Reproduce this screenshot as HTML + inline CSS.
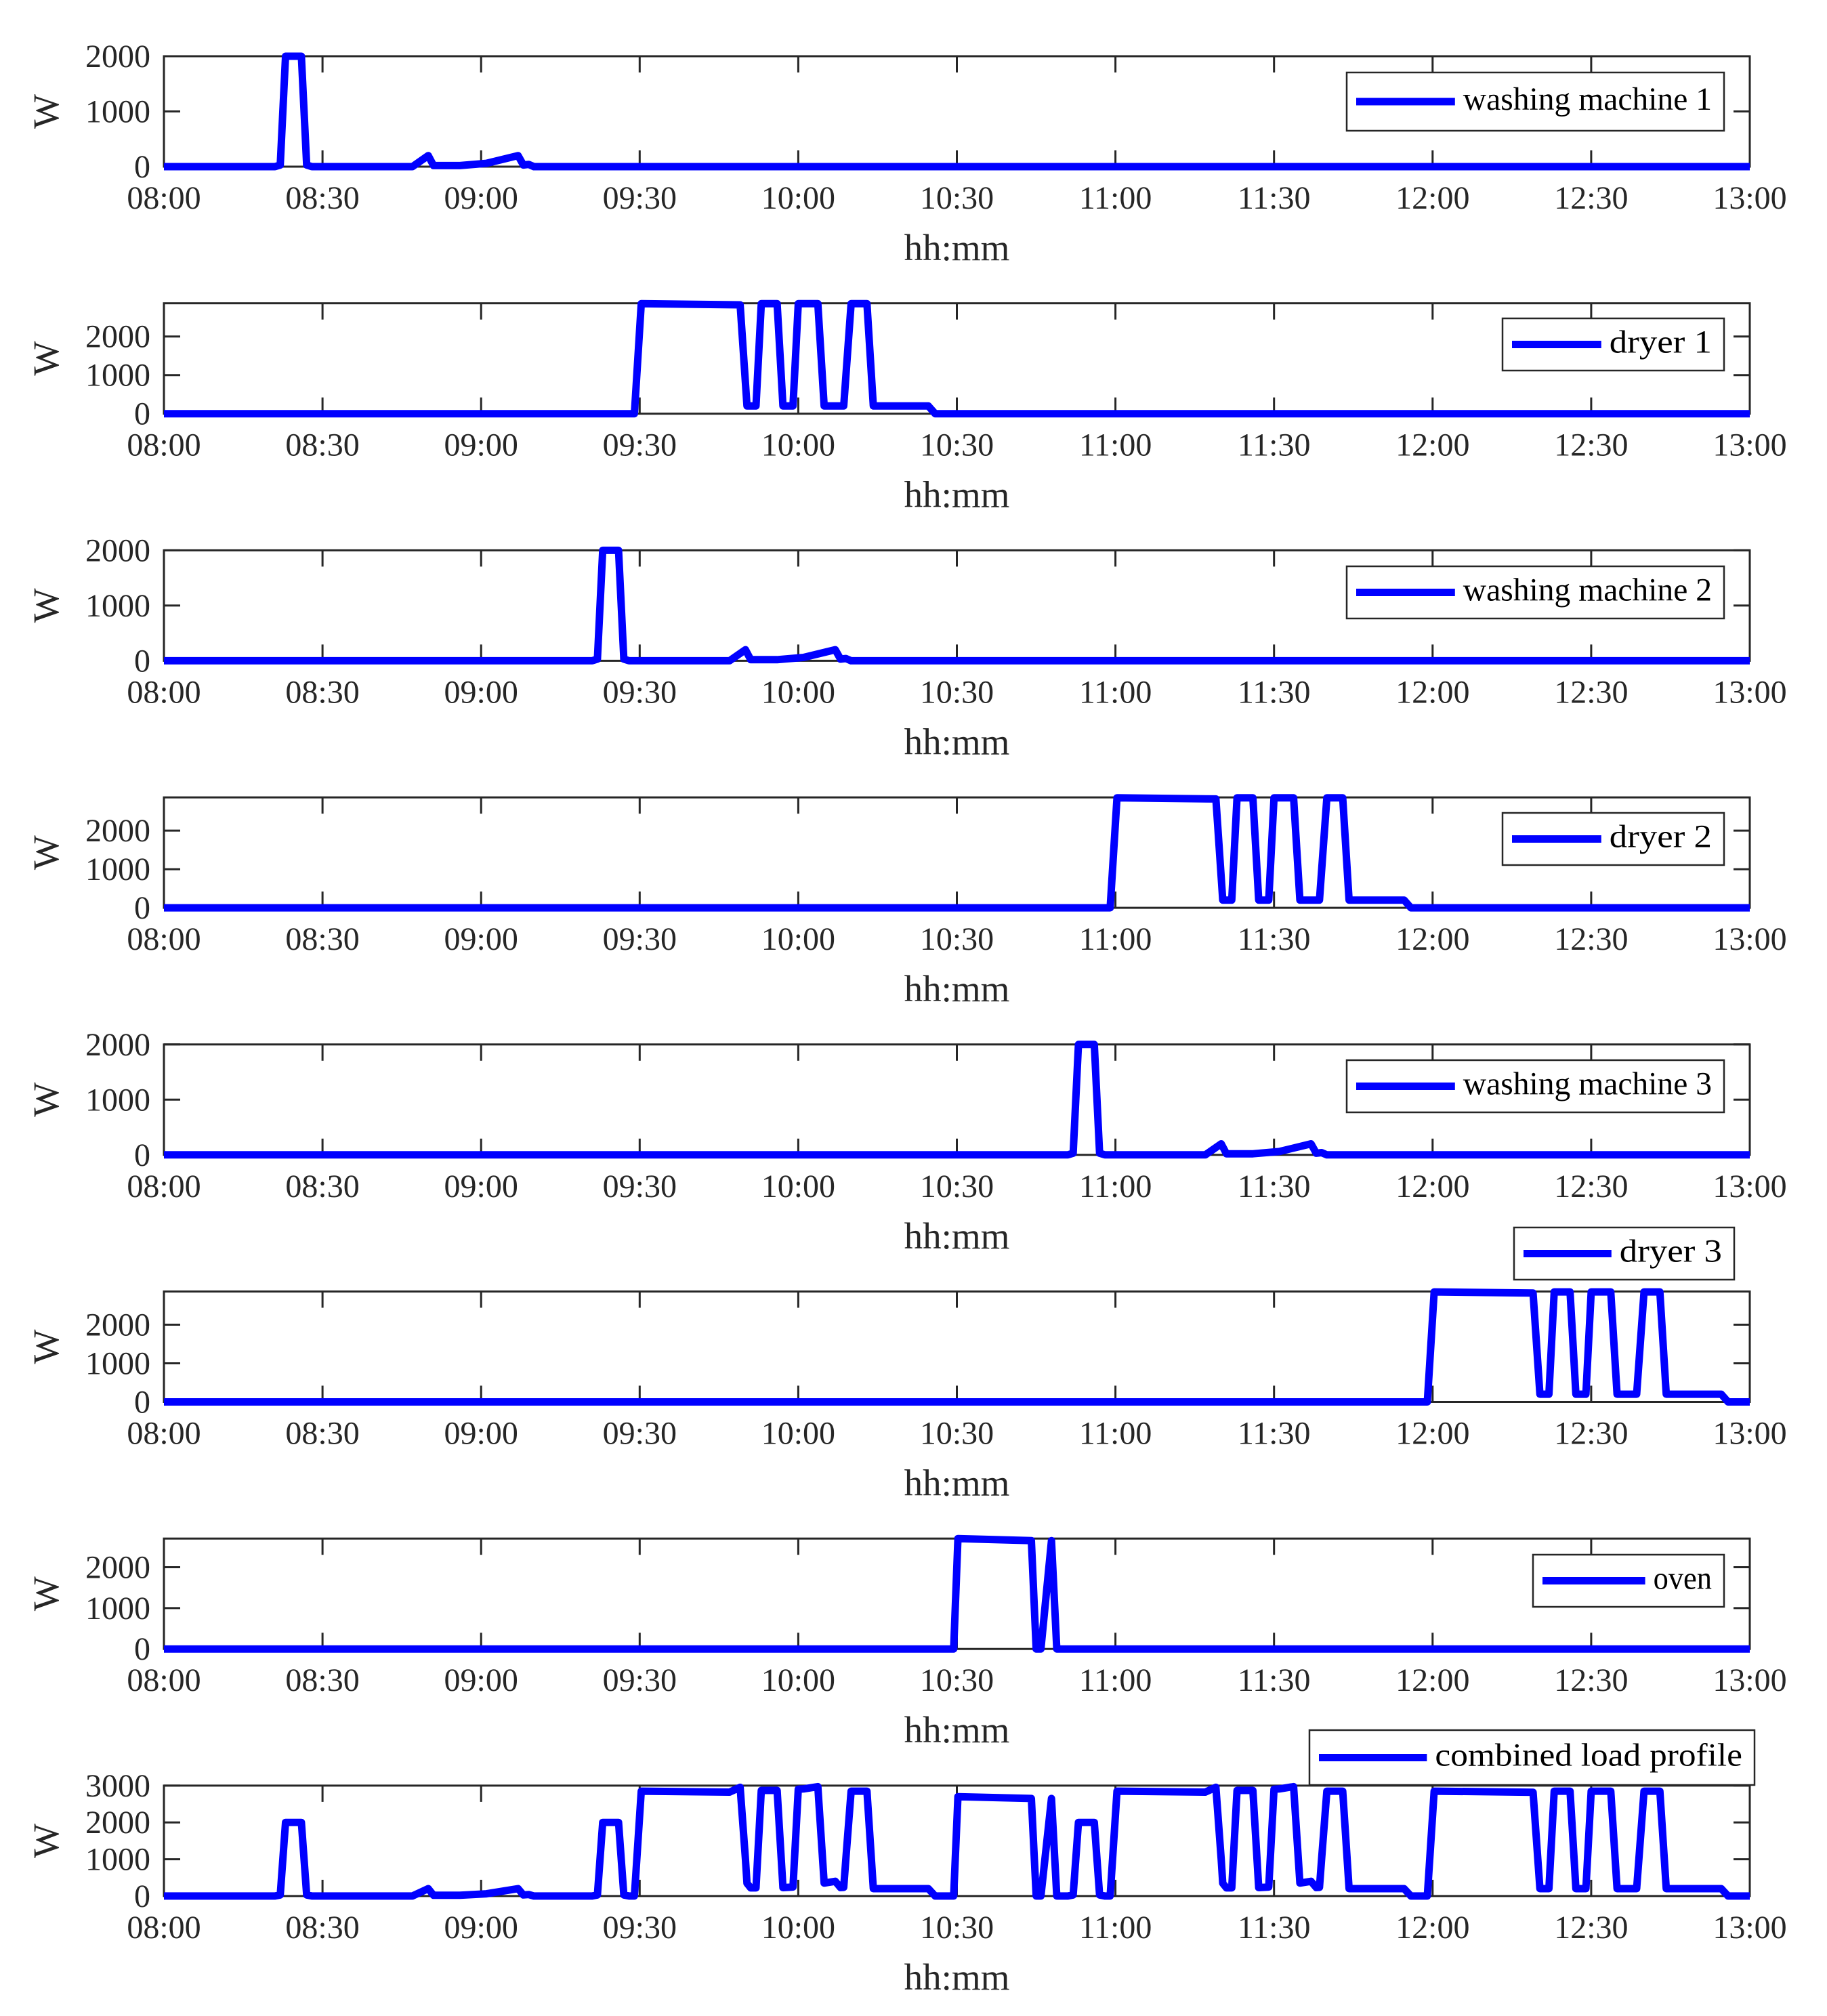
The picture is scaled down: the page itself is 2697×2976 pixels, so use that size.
<!DOCTYPE html>
<html><head><meta charset="utf-8"><style>
html,body{margin:0;padding:0;background:#fff;}
svg{display:block;font-family:"Liberation Serif",serif;}
</style></head><body>
<svg id="chart" width="2697" height="2976" viewBox="0 0 2697 2976" xmlns="http://www.w3.org/2000/svg"></svg>
<script>
// ---- data (minutes after 08:00, watts) ----
const xTickLabels = ["08:00","08:30","09:00","09:30","10:00","10:30","11:00","11:30","12:00","12:30","13:00"];
const wm1T = [0,21,22,23,26,27,28,47,50,51,56,61,67,68,69,70,71,300];
const wm1V = [0,0,30,2000,2000,30,0,0,200,20,20,60,200,30,40,0,0,0];
const dr1T = [0,89,90.3,109,110.3,112,113,116,117.1,119,120,123.7,124.9,128.6,130,133,134.2,144.6,145.9,300];
const dr1V = [0,0,2850,2820,200,200,2850,2850,200,200,2850,2850,200,200,2850,2850,200,200,0,0];
const wm2T = [0,81,82,83,86,87,88,107,110,111,116,121,127,128,129,130,131,300];
const wm2V = [0,0,30,2000,2000,30,0,0,200,20,20,60,200,30,40,0,0,0];
const dr2T = [0,179,180.3,199,200.3,202,203,206,207.1,209,210,213.7,214.9,218.6,220,223,224.2,234.6,235.9,300];
const dr2V = [0,0,2850,2820,200,200,2850,2850,200,200,2850,2850,200,200,2850,2850,200,200,0,0];
const wm3T = [0,171,172,173,176,177,178,197,200,201,206,211,217,218,219,220,221,300];
const wm3V = [0,0,30,2000,2000,30,0,0,200,20,20,60,200,30,40,0,0,0];
const dr3T = [0,239,240.3,259,260.3,262,263,266,267.1,269,270,273.7,274.9,278.6,280,283,284.2,294.6,295.9,300];
const dr3V = [0,0,2850,2820,200,200,2850,2850,200,200,2850,2850,200,200,2850,2850,200,200,0,0];
const ovT = [0,149.4,150.2,164.1,165,165.9,167.9,168.9,300];
const ovV = [0,0,2700,2650,0,0,2650,0,0];

const NS="http://www.w3.org/2000/svg";
const svg=document.getElementById('chart');
function mk(tag,attrs,parent){const e=document.createElementNS(NS,tag);for(const k in attrs)e.setAttribute(k,attrs[k]);(parent||svg).appendChild(e);return e;}

function interp(T,V,t){
  if(t<=T[0])return V[0];
  for(let i=1;i<T.length;i++){if(t<=T[i]){const f=(t-T[i-1])/(T[i]-T[i-1]||1);return V[i-1]+f*(V[i]-V[i-1]);}}
  return V[V.length-1];
}
const allSeries=[[wm1T,wm1V],[dr1T,dr1V],[wm2T,wm2V],[dr2T,dr2V],[wm3T,wm3V],[dr3T,dr3V],[ovT,ovV]];
const combT=[...new Set(allSeries.flatMap(s=>s[0]))].sort((a,b)=>a-b);
const combV=combT.map(t=>allSeries.reduce((s,p)=>s+interp(p[0],p[1],t),0));

const L=242,R=2583,H=163,TOP0=83,STEP=364.7;
const panels=[
 {T:wm1T,V:wm1V,ymax:2000,yt:[0,1000,2000],leg:"washing machine 1",lb:[1988,107,2545,193],name:"washing-machine-1"},
 {T:dr1T,V:dr1V,ymax:2860,yt:[0,1000,2000],leg:"dryer 1",lb:[2218,470,2545,547],name:"dryer-1"},
 {T:wm2T,V:wm2V,ymax:2000,yt:[0,1000,2000],leg:"washing machine 2",lb:[1988,836,2545,913],name:"washing-machine-2"},
 {T:dr2T,V:dr2V,ymax:2860,yt:[0,1000,2000],leg:"dryer 2",lb:[2218,1200,2545,1277],name:"dryer-2"},
 {T:wm3T,V:wm3V,ymax:2000,yt:[0,1000,2000],leg:"washing machine 3",lb:[1988,1565,2545,1642],name:"washing-machine-3"},
 {T:dr3T,V:dr3V,ymax:2860,yt:[0,1000,2000],leg:"dryer 3",lb:[2235,1812,2560,1889],name:"dryer-3"},
 {T:ovT,V:ovV,ymax:2700,yt:[0,1000,2000],leg:"oven",lb:[2263,2295,2545,2372],name:"oven"},
 {T:combT,V:combV,ymax:3000,yt:[0,1000,2000,3000],leg:"combined load profile",lb:[1933,2554,2590,2635],name:"combined-load-profile"}
];

panels.forEach((p,i)=>{
  const top=TOP0+i*STEP, bot=top+H;
  const g=mk('g',{});
  
  
  const xs=t=>L+t/300*(R-L);
  const ys=v=>bot-v/p.ymax*H;
  xTickLabels.forEach((lab,k)=>{
    const x=xs(k*30);
    mk('line',{x1:x,y1:bot,x2:x,y2:bot-24,stroke:'#262626','stroke-width':3},g);
    mk('line',{x1:x,y1:top,x2:x,y2:top+24,stroke:'#262626','stroke-width':3},g);
    const t=mk('text',{x:x,y:bot+62,'font-size':48,'text-anchor':'middle',fill:'#262626'},g);
    t.textContent=lab;
    
    
  });
  p.yt.forEach(v=>{
    const y=ys(v);
    mk('line',{x1:L,y1:y,x2:L+24,y2:y,stroke:'#262626','stroke-width':3},g);
    mk('line',{x1:R,y1:y,x2:R-24,y2:y,stroke:'#262626','stroke-width':3},g);
    const t=mk('text',{x:222,y:y+16,'font-size':48,'text-anchor':'end',fill:'#262626'},g);
    t.textContent=String(v);
    
    
  });
  mk('rect',{x:L,y:top,width:R-L,height:H,fill:'none',stroke:'#262626','stroke-width':3},g);
  const pts=p.T.map((t,k)=>xs(t).toFixed(1)+','+ys(p.V[k]).toFixed(1)).join(' ');
  const line=mk('polyline',{points:pts,fill:'none',stroke:'#0000ff','stroke-width':11,'stroke-linejoin':'round'},g);
  
  
  const yl=mk('text',{x:0,y:0,'font-size':54,'text-anchor':'middle',fill:'#262626',transform:`translate(86,${top+H/2}) rotate(-90)`},g);
  yl.textContent='W';
  
  
  const xl=mk('text',{x:(L+R)/2,y:bot+138,'font-size':55,'text-anchor':'middle',fill:'#262626'},g);
  xl.textContent='hh:mm';
  
  
  const [x1,y1,x2,y2]=p.lb;
  const lg=mk('g',{},g);
  
  
  mk('rect',{x:x1,y:y1,width:x2-x1,height:y2-y1,fill:'#fff',stroke:'#262626','stroke-width':2.5},lg);
  const cy=(y1+y2)/2;
  const textEnd=x2-18;
  const tw=p.leg.length*21.6;
  mk('line',{x1:x1+14,y1:cy,x2:textEnd-tw-12,y2:cy,stroke:'#0000ff','stroke-width':11},lg);
  const lt=mk('text',{x:textEnd,y:cy+12,'font-size':48,'text-anchor':'end',fill:'#000',textLength:tw,lengthAdjust:'spacingAndGlyphs'},lg);
  lt.textContent=p.leg;
  
  
});
</script>
</body></html>
